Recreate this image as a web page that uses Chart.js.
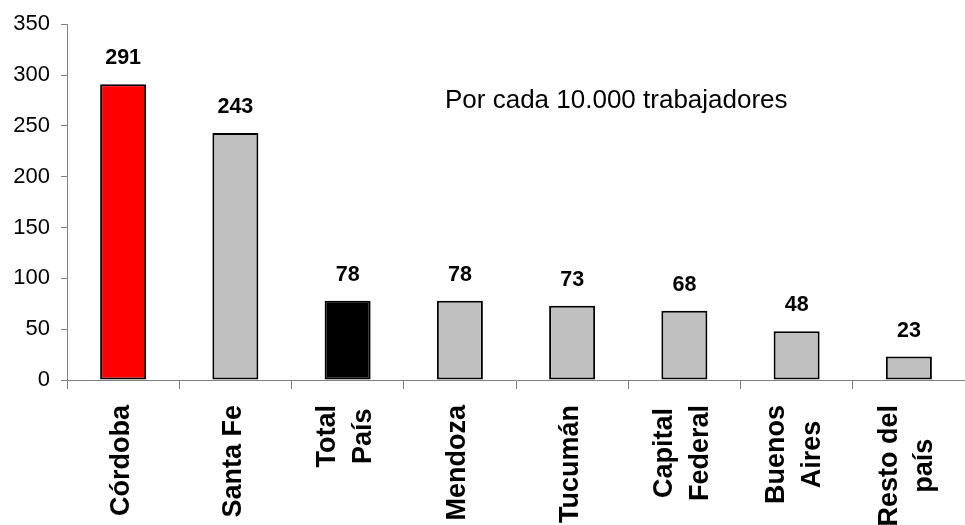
<!DOCTYPE html>
<html>
<head>
<meta charset="utf-8">
<title>Por cada 10.000 trabajadores</title>
<script src="https://cdn.jsdelivr.net/npm/chart.js@4.4.1/dist/chart.umd.min.js"></script>
<style>
  html, body { margin: 0; padding: 0; background: #ffffff; }
  #wrap { width: 965px; height: 525px; }
</style>
</head>
<body>
<div id="wrap"><canvas id="chart" width="965" height="525"></canvas></div>
<script>
// Provinces (multi-line labels as arrays of lines)
const categories = [
  ['Córdoba'],
  ['Santa Fe'],
  ['Total', 'País'],
  ['Mendoza'],
  ['Tucumán'],
  ['Capital', 'Federal'],
  ['Buenos', 'Aires'],
  ['Resto del', 'país']
];
const values = [291, 243, 78, 78, 73, 68, 48, 23];
const barColors = ['#FF0000', '#C0C0C0', '#000000', '#C0C0C0', '#C0C0C0', '#C0C0C0', '#C0C0C0', '#C0C0C0'];
const yTicks = [0, 50, 100, 150, 200, 250, 300, 350];
const note = 'Por cada 10.000 trabajadores';

const FONT = '"Liberation Sans", Arial, Helvetica, sans-serif';
const AXIS = '#808080';

// Values above the bars
const valueLabels = {
  id: 'valueLabels',
  afterDatasetsDraw(chart) {
    const ctx = chart.ctx;
    const meta = chart.getDatasetMeta(0);
    ctx.save();
    ctx.font = 'bold 21.5px ' + FONT;
    ctx.fillStyle = '#000';
    ctx.textAlign = 'center';
    ctx.textBaseline = 'alphabetic';
    meta.data.forEach((bar, i) => {
      ctx.fillText(String(values[i]), bar.x, bar.y - 20);
    });
    ctx.restore();
  }
};

// Vertical category labels, lines centred within each block
const categoryLabels = {
  id: 'categoryLabels',
  afterDraw(chart) {
    const ctx = chart.ctx;
    const xs = chart.scales.x;
    const top = xs.top + 25;
    const lineGap = 35.5;
    ctx.save();
    ctx.font = 'bold 27px ' + FONT;
    ctx.fillStyle = '#000';
    ctx.textBaseline = 'middle';
    ctx.textAlign = 'center';
    categories.forEach((lines, i) => {
      const cx = xs.getPixelForValue(i) - 2;
      const maxW = Math.max(...lines.map(l => ctx.measureText(l).width));
      ctx.save();
      ctx.translate(cx, top);
      ctx.rotate(-Math.PI / 2);
      lines.forEach((line, k) => {
        const off = (k - (lines.length - 1) / 2) * lineGap;
        ctx.fillText(line, -maxW / 2, off);
      });
      ctx.restore();
    });
    ctx.restore();
  }
};

// Free note inside the plot area
const noteLabel = {
  id: 'noteLabel',
  afterDraw(chart) {
    const ctx = chart.ctx;
    const area = chart.chartArea;
    ctx.save();
    ctx.font = '26px ' + FONT;
    ctx.fillStyle = '#000';
    ctx.textAlign = 'left';
    ctx.textBaseline = 'alphabetic';
    ctx.fillText(note, area.left + 378, area.top + 84);
    ctx.restore();
  }
};

new Chart(document.getElementById('chart'), {
  type: 'bar',
  data: {
    labels: categories,
    datasets: [{
      data: values,
      backgroundColor: barColors,
      borderColor: '#000000',
      borderWidth: 2,
      borderSkipped: false,
      categoryPercentage: 1.0,
      barPercentage: 0.41
    }]
  },
  options: {
    responsive: false,
    animation: false,
    devicePixelRatio: 1,
    layout: { padding: { top: 24, right: 0, bottom: 0, left: 0 } },
    plugins: {
      legend: { display: false },
      tooltip: { enabled: false },
      title: { display: false }
    },
    scales: {
      x: {
        type: 'category',
        offset: true,
        grid: {
          display: true,
          offset: true,
          drawOnChartArea: false,
          drawTicks: true,
          tickLength: 9,
          color: AXIS,
          lineWidth: 1
        },
        border: { display: true, color: AXIS, width: 1 },
        ticks: { display: false },
        afterFit(scale) { scale.height = 145; }
      },
      y: {
        min: 0,
        max: 350,
        afterBuildTicks(scale) { scale.ticks = yTicks.map(v => ({ value: v })); },
        grid: {
          display: true,
          drawOnChartArea: false,
          drawTicks: true,
          tickLength: 6,
          color: AXIS,
          lineWidth: 1
        },
        border: { display: true, color: AXIS, width: 1 },
        ticks: {
          padding: 11,
          color: '#000',
          font: { family: FONT, size: 22 },
          callback: v => String(v)
        },
        afterFit(scale) { scale.width = 67; }
      }
    }
  },
  plugins: [valueLabels, categoryLabels, noteLabel]
});
</script>
</body>
</html>
